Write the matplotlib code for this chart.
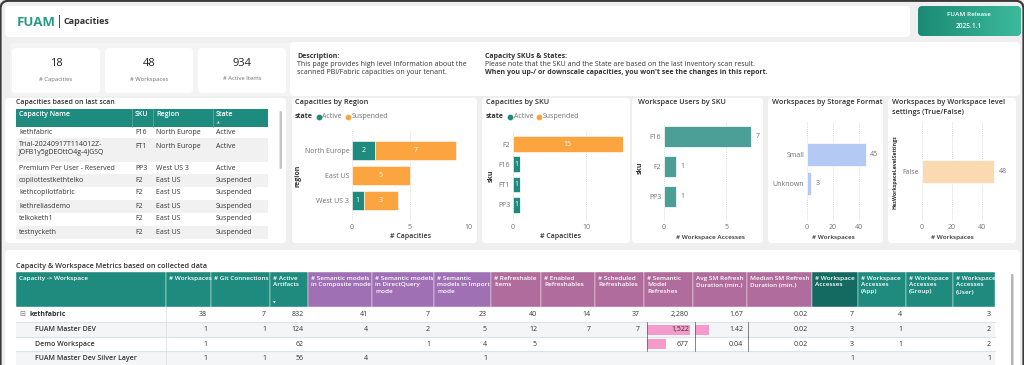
import numpy as np
import matplotlib.pyplot as plt
from matplotlib.patches import FancyBboxPatch, Rectangle
from matplotlib.colors import LinearSegmentedColormap

plt.rcParams['font.family'] = ['Open Sans', 'DejaVu Sans']

W, H = 1024, 365

# ---- data ----
kpi_values = ["18", "48", "934"]
kpi_labels = ["# Capacities", "# Workspaces", "# Active Items"]

cap_names = ["kethfabric", "Trial-20240917T114012Z-\nJOFB1y5gDEOttO4g-4JGSQ",
             "Premium Per User - Reserved", "copilottestkethtelko",
             "kethcopilotfabric", "kethreliasdemo", "telkoketh1", "testnycketh"]
cap_skus = ["F16", "FT1", "PP3", "F2", "F2", "F2", "F2", "F2"]
cap_regions = ["North Europe", "North Europe", "West US 3", "East US",
               "East US", "East US", "East US", "East US"]
cap_states = ["Active", "Active", "Active", "Suspended", "Suspended",
              "Suspended", "Suspended", "Suspended"]

region_names = ["North Europe", "East US", "West US 3"]
region_active = [2, 0, 1]
region_suspended = [7, 5, 3]

sku_names = ["F2", "F16", "FT1", "PP3"]
sku_active = [0, 1, 1, 1]
sku_suspended = [15, 0, 0, 0]

user_skus = ["F16", "F2", "PP3"]
user_accesses = [7, 1, 1]

storage_formats = ["Small", "Unknown"]
storage_counts = [45, 3]

level_settings = ["False"]
level_counts = [48]

metric_headers = ["Capacity -> Workspace", "# Workspaces", "# Git Connections",
                  "# Active\nArtifacts", "# Semantic models\nin Composite mode",
                  "# Semantic models\nin DirectQuery\nmode",
                  "# Semantic\nmodels in Import\nmode", "# Refreshable\nItems",
                  "# Enabled\nRefreshables", "# Scheduled\nRefreshables",
                  "# Semantic\nModel\nRefreshes", "Avg SM Refresh\nDuration (min.)",
                  "Median SM Refresh\nDuration (min.)", "# Workspace\nAccesses",
                  "# Workspace\nAccesses\n(App)", "# Workspace\nAccesses\n(Group)",
                  "# Workspace\nAccesses\n(User)"]
metric_names = ["kethfabric", "FUAM Master DEV", "Demo Workspace",
                "FUAM Master Dev Silver Layer"]
metric_rows = [
    ["38", "7", "832", "41", "7", "23", "40", "14", "37", "2,280", "1.67", "0.02", "7", "4", "", "3"],
    ["1", "1", "124", "4", "2", "5", "12", "7", "7", "1,522", "1.42", "0.02", "3", "1", "", "2"],
    ["1", "", "62", "", "1", "4", "5", "", "", "677", "0.04", "0.02", "3", "1", "", "2"],
    ["1", "1", "56", "4", "", "1", "", "", "", "", "", "", "1", "", "", "1"],
]
refresh_bars = [0, 1522, 677, 0]
avg_bars = [0, 1.42, 0.04, 0]

# ---- style ----
TEAL = "#1f8a7e"
ORANGE = "#fca43f"
DARK = "#333333"
GREY = "#707070"
BG = "#efefef"

fig = plt.figure(figsize=(W / 100, H / 100), dpi=100)
fig.patch.set_facecolor(BG)
bg = fig.add_axes([0, 0, 1, 1])
bg.set_axis_off()


def panel(x0, y0, x1, y1, color="white", r=4, ec="none", lw=0, z=0):
    p = FancyBboxPatch((x0, y0), x1 - x0, y1 - y0,
                       boxstyle=f"round,pad=0,rounding_size={r}",
                       fc=color, ec=ec, lw=lw, zorder=z)
    bg.add_patch(p)
    return p


def txt(x, y, s, size=5, color=DARK, weight="normal", ha="left", va="center", **kw):
    bg.text(x, y, s, fontsize=size, color=color, fontweight=weight,
            ha=ha, va=va, **kw)


def px_axes(x0, x1, y0, y1):
    a = fig.add_axes([x0 / W, 1 - y1 / H, (x1 - x0) / W, (y1 - y0) / H])
    a.set_facecolor("none")
    for s in a.spines.values():
        s.set_visible(False)
    a.tick_params(length=0, labelsize=5, labelcolor=GREY, pad=2)
    a.grid(axis="x", color="#cfcfcf", linestyle=(0, (1, 1.5)), lw=0.6)
    a.set_axisbelow(True)
    return a


# ---- header ----
panel(5, 6, 910, 37)
txt(17, 22, "FUAM", size=9.5, color="#2a9a86", weight="bold")
txt(56, 22, "|", size=9, color=DARK)
txt(64, 22, "Capacities", size=6.5, weight="bold")

btn = panel(918, 6, 1021, 36, color=TEAL, r=5)
grad = np.linspace(0, 1, 100).reshape(1, -1)
cmap = LinearSegmentedColormap.from_list("btn", ["#1b8a74", "#3cba9c"])
im = bg.imshow(grad, extent=(918, 1021, 36, 6), cmap=cmap, aspect="auto", zorder=1)
im.set_clip_path(btn)
txt(969, 15, "FUAM Release", size=4.6, color="white", ha="center", weight="semibold", zorder=3)
txt(969, 26, "2025.1.1", size=4.8, color="white", ha="center", weight="semibold", zorder=3)

# ---- KPI + description ----
panel(10, 43, 294, 96, color="#f4f4f4")
panel(290, 42, 1020, 96)
for i, (v, lab) in enumerate(zip(kpi_values, kpi_labels)):
    x0 = 12 + i * 93
    panel(x0, 48, x0 + 88, 93)
    txt(x0 + 44, 64, v, size=8, ha="center", color="#222222")
    txt(x0 + 44, 79, lab, size=4.2, ha="center", color=GREY)

txt(297, 56, "Description:", size=5, weight="bold")
txt(297, 64, "This page provides high level information about the", size=5)
txt(297, 72, "scanned PBI/Fabric capacities on your tenant.", size=5)
txt(485, 56, "Capacity SKUs & States:", size=5, weight="bold")
txt(485, 64, "Please note that the SKU and the State are based on the last inventory scan result.", size=5)
txt(485, 72, "When you up-/ or downscale capacities, you won't see the changes in this report.",
    size=5, weight="bold")

# ---- second row panels ----
for x0, x1 in [(5, 286), (292, 477), (482, 630), (632, 763), (768, 883), (888, 1016)]:
    panel(x0, 98, x1, 243)

# capacities table
txt(16, 102, "Capacities based on last scan", size=5, weight="semibold")
bg.add_patch(Rectangle((16, 109), 252, 18, fc=TEAL, zorder=1))
col_x = [16, 132, 153, 213, 268]
for cx in col_x[1:-1]:
    bg.plot([cx, cx], [109, 127], color="#5fb0a6", lw=0.5, zorder=2)
for cx, h in zip(col_x, ["Capacity Name", "SKU", "Region", "State"]):
    txt(cx + 3, 115, h, size=5, color="white", weight="semibold", zorder=3)
txt(217, 123, "\u25b2", size=2.5, color="white", zorder=3)

row_bounds = [127, 138, 162, 174, 187, 200, 213, 226, 239]
for i in range(len(cap_names)):
    y0, y1 = row_bounds[i], row_bounds[i + 1]
    if i % 2 == 1:
        bg.add_patch(Rectangle((16, y0), 252, y1 - y0, fc="#f1f1f1", zorder=1))
    ty = y0 + 6 if "\n" not in cap_names[i] else y0 + 3
    va = "center" if "\n" not in cap_names[i] else "top"
    txt(19, ty, cap_names[i], size=5, va=va, linespacing=1.25, zorder=3)
    txt(135, y0 + 6 if va == "center" else y0 + 8, cap_skus[i], size=5, zorder=3)
    txt(156, y0 + 6 if va == "center" else y0 + 8, cap_regions[i], size=5, zorder=3)
    txt(216, y0 + 6 if va == "center" else y0 + 8, cap_states[i], size=5, zorder=3)
bg.add_patch(FancyBboxPatch((279.5, 111), 2.5, 58, boxstyle="round,pad=0,rounding_size=1.2",
                            fc="#c4c4c4", ec="none", zorder=3))


def legend(x, y):
    txt(x, y, "state", size=5, weight="bold")
    bg.scatter([x + 24], [y], s=10, color=TEAL, zorder=3)
    txt(x + 27.5, y, "Active", size=5, color=GREY)
    bg.scatter([x + 53], [y], s=10, color=ORANGE, zorder=3)
    txt(x + 56.5, y, "Suspended", size=5, color=GREY)


# capacities by region
txt(295, 102, "Capacities by Region", size=5.3, weight="semibold")
legend(295, 117)
ax1 = px_axes(352, 468, 130, 221)
y = np.arange(len(region_names))
ax1.barh(y, region_active, height=0.76, color=TEAL, ec="white", lw=0.4)
ax1.barh(y, region_suspended, left=region_active, height=0.76, color=ORANGE, ec="white", lw=0.4)
for yi, a, s in zip(y, region_active, region_suspended):
    if a:
        ax1.text(a / 2, yi, str(a), color="white", fontsize=5, ha="center", va="center")
    if s:
        ax1.text(a + s / 2, yi, str(s), color="white", fontsize=5, ha="center", va="center")
ax1.set_yticks(y, region_names)
ax1.set_xticks([0, 5, 10])
ax1.set_xlim(0, 10)
ax1.set_ylim(2.8, -0.8)
txt(410, 237, "# Capacities", size=5, weight="semibold", ha="center")
bg.text(298, 176, "region", fontsize=5, color=DARK, fontweight="bold", rotation=90,
        ha="center", va="center")

# capacities by sku
txt(486, 102, "Capacities by SKU", size=5.3, weight="semibold")
legend(486, 117)
ax2 = px_axes(513, 622.5, 130, 221)
y = np.arange(len(sku_names))
ax2.barh(y, sku_active, height=0.78, color=TEAL, ec="white", lw=0.4)
ax2.barh(y, sku_suspended, left=sku_active, height=0.78, color=ORANGE, ec="white", lw=0.4)
for yi, a, s in zip(y, sku_active, sku_suspended):
    if a:
        ax2.text(a / 2, yi, str(a), color="white", fontsize=5, ha="center", va="center")
    if s:
        ax2.text(a + s / 2, yi, str(s), color="white", fontsize=5, ha="center", va="center")
ax2.set_yticks(y, sku_names)
ax2.set_xticks([0, 10])
ax2.set_xlim(0, 15)
ax2.set_ylim(3.8, -0.7)
txt(560, 237, "# Capacities", size=5, weight="semibold", ha="center")
bg.text(491, 176, "sku", fontsize=5, color=DARK, fontweight="bold", rotation=90,
        ha="center", va="center")


def simple_bars(ax, cats, vals, color, height, xlim, xticks, ylim, off):
    yy = np.arange(len(cats))
    ax.barh(yy, vals, height=height, color=color, ec="white", lw=0.5)
    for yi, v in zip(yy, vals):
        ax.text(v + off, yi, str(v), color=GREY, fontsize=5, ha="left", va="center",
                clip_on=False)
    ax.set_yticks(yy, cats)
    ax.set_xticks(xticks)
    ax.set_xlim(*xlim)
    ax.set_ylim(*ylim)


# workspace users by sku
txt(638, 102, "Workspace Users by SKU", size=5.3, weight="semibold")
ax3 = px_axes(664, 755, 122, 221)
simple_bars(ax3, user_skus, user_accesses, "#4c9f96", 0.7, (0, 7.3), [0, 5], (2.8, -0.5), 0.35)
txt(710, 237, "# Workspace Accesses", size=4.6, weight="semibold", ha="center")
bg.text(640, 168, "sku", fontsize=5, color=DARK, fontweight="bold", rotation=90,
        ha="center", va="center")

# storage format
txt(772, 102, "Workspaces by Storage Format", size=5.3, weight="semibold")
ax4 = px_axes(807, 869.4, 122, 221)
simple_bars(ax4, storage_formats, storage_counts, "#b4c9f3", 0.79, (0, 48), [0, 20, 40],
            (2.3, -1.1), 3.5)
txt(833, 237, "# Workspaces", size=4.6, weight="semibold", ha="center")

# workspace level settings
txt(892, 102, "Workspaces by Workspace level", size=5.3, weight="semibold")
txt(892, 112, "settings (True/False)", size=5.3, weight="semibold")
ax5 = px_axes(922, 997, 122, 221)
simple_bars(ax5, level_settings, level_counts, "#fdd9b2", 0.76, (0, 50), [0, 20, 40],
            (1.7, -1.7), 3.5)
txt(952, 237, "# Workspaces", size=4.6, weight="semibold", ha="center")
bg.text(895, 172, "HasWorkspaceLevelSettings", fontsize=3.8, color=DARK, fontweight="bold",
        rotation=90, ha="center", va="center")

# ---- bottom metrics table ----
panel(5, 250, 1020, 372)
txt(16, 266, "Capacity & Workspace Metrics based on collected data", size=5.2, weight="semibold")
bounds = [16, 166, 211, 270, 308, 372, 434, 491, 541, 595, 644, 693, 747, 812, 858, 906, 953, 995]
head_colors = [TEAL] * 4 + ["#a070b4"] * 3 + ["#b06c9c"] * 6 + ["#146a61"] + [TEAL] * 3
for i, hd in enumerate(metric_headers):
    x0, x1 = bounds[i], bounds[i + 1]
    bg.add_patch(Rectangle((x0, 272), x1 - x0, 35, fc=head_colors[i], ec="white", lw=0.3, zorder=1))
    txt(x0 + 3, 276, hd, size=4.6, color="white", weight="semibold", va="top",
        linespacing=1.35, zorder=3)
txt(273, 303, "\u25bc", size=2.5, color="white", zorder=3)

mrow_bounds = [307, 322, 337, 351, 366]
for r, (name, vals) in enumerate(zip(metric_names, metric_rows)):
    y0, y1 = mrow_bounds[r], mrow_bounds[r + 1]
    yc = (y0 + y1) / 2
    if r % 2 == 1:
        bg.add_patch(Rectangle((16, y0), 979, y1 - y0, fc="#f3f5f6", zorder=1))
    bg.plot([16, 995], [y1, y1], color="#dde4e7", lw=0.8, zorder=2)
    bg.plot([166, 166], [y0, y1], color="#dde4e7", lw=0.6, zorder=2)
    if r == 0:
        txt(19, yc, "\u229f", size=5, color="#777777", zorder=3)
        txt(29, yc, name, size=5, weight="bold", zorder=3)
    else:
        txt(35, yc, name, size=5, weight="semibold", zorder=3)
    if refresh_bars[r]:
        w = refresh_bars[r] / max(refresh_bars) * 43
        bg.add_patch(Rectangle((647, yc - 5), w, 10, fc="#f59bcb", zorder=2))
        bg.plot([646.5, 646.5], [y0, y1], color="#555555", lw=0.5, zorder=2)
    if avg_bars[r]:
        w = avg_bars[r] / 4.4 * 43
        bg.add_patch(Rectangle((695, yc - 5), w, 10, fc="#f59bcb", zorder=2))
    if r in (1, 2):
        bg.plot([694.5, 694.5], [y0, y1], color="#555555", lw=0.5, zorder=2)
        bg.plot([747.5, 747.5], [y0, y1], color="#555555", lw=0.5, zorder=2)
    for c, v in enumerate(vals):
        if v:
            txt(bounds[c + 2] - 4, yc, v, size=5, ha="right", zorder=3)
bg.add_patch(FancyBboxPatch((1011, 274), 2.5, 95, boxstyle="round,pad=0,rounding_size=1.2",
                            fc="#b5b5b5", ec="none", zorder=3))

# outer frame
bg.add_patch(FancyBboxPatch((0.5, 0.8), 1023, 400, boxstyle="round,pad=0,rounding_size=8",
                            fc="none", ec="#3a3a3a", lw=1.6, zorder=5))

bg.set_xlim(0, W)
bg.set_ylim(H, 0)
fig.savefig("out.png", dpi=100, facecolor=BG)
